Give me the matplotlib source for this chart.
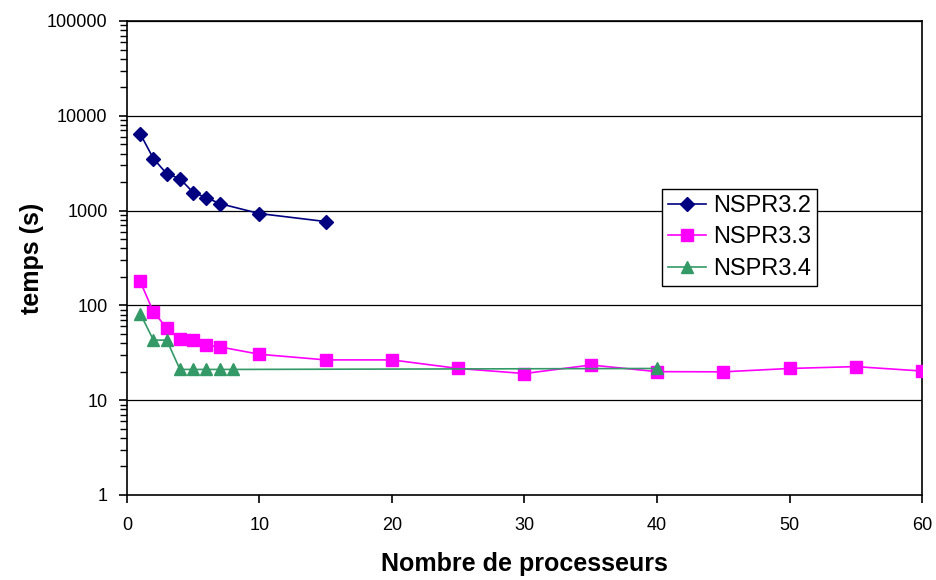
import numpy as np
import matplotlib
matplotlib.use('Agg')
import matplotlib.pyplot as plt
from matplotlib.ticker import LogLocator, FixedLocator, NullFormatter

plt.rcParams['font.family'] = ['Liberation Sans', 'DejaVu Sans']

# values
x32 = [1, 2, 3, 4, 5, 6, 7, 10, 15]
t32 = [6460, 3530, 2450, 2170, 1550, 1370, 1185, 930, 766]

x33 = [1, 2, 3, 4, 5, 6, 7, 10, 15, 20, 25, 30, 35, 40, 45, 50, 55, 60]
t33 = [179, 85, 58, 44, 43, 38, 36.5, 30.5, 26.6, 26.6, 21.6, 19.1, 23.5,
       20.0, 19.9, 21.6, 22.6, 20.3]

x34 = [1, 2, 3, 4, 5, 6, 7, 8, 40]
t34 = [82, 43, 43, 21.1, 21.1, 21.1, 21.1, 21.1, 21.6]

yticks = [1, 10, 100, 1000, 10000, 100000]
xticks = [0, 10, 20, 30, 40, 50, 60]

fig = plt.figure(figsize=(9.37, 5.8), dpi=100)
ax = fig.add_axes([0.1355, 0.1466, 0.8485, 0.8172])

ax.set_yscale('log')
ax.set_ylim(1, 100000)
ax.set_xlim(0, 60)

for y in yticks[1:]:
    ax.axhline(y, color='black', lw=0.9, zorder=1)

ax.plot(x32, t32, color='#000080', marker='D', ms=7.5, lw=1.2, label='NSPR3.2', zorder=3)
ax.plot(x33, t33, color='#FF00FF', marker='s', ms=9, lw=1.2, label='NSPR3.3', zorder=3)
ax.plot(x34, t34, color='#339966', marker='^', ms=9, lw=1.2, label='NSPR3.4', zorder=4)

ax.yaxis.set_major_locator(FixedLocator(yticks))
ax.set_yticklabels([str(v) for v in yticks])
ax.yaxis.set_minor_locator(LogLocator(base=10, subs=np.arange(2, 10)))
ax.yaxis.set_minor_formatter(NullFormatter())
ax.set_xticks(xticks)

ax.tick_params(axis='both', which='major', labelsize=13, direction='out', length=6, width=1.2)
ax.tick_params(axis='y', which='minor', direction='out', length=5, width=1.0)
ax.tick_params(axis='y', pad=8)
ax.tick_params(axis='x', pad=10)

for s in ax.spines.values():
    s.set_linewidth(1.2)
    s.set_color('black')

ax.set_xlabel('Nombre de processeurs', fontsize=18, fontweight='bold')
ax.set_ylabel('temps (s)', fontsize=18, fontweight='bold')
ax.xaxis.set_label_coords(0.5, -0.12)
ax.yaxis.set_label_coords(-0.104, 0.5)

leg = ax.legend(loc='upper left', bbox_to_anchor=(0.673, 0.6456), fontsize=17,
                frameon=True, fancybox=False, edgecolor='black', framealpha=1,
                borderpad=0.25, labelspacing=0.4, handlelength=1.6, handletextpad=0.3,
                borderaxespad=0)
leg.get_frame().set_linewidth(1.0)

fig.savefig('out.png', dpi=100)
